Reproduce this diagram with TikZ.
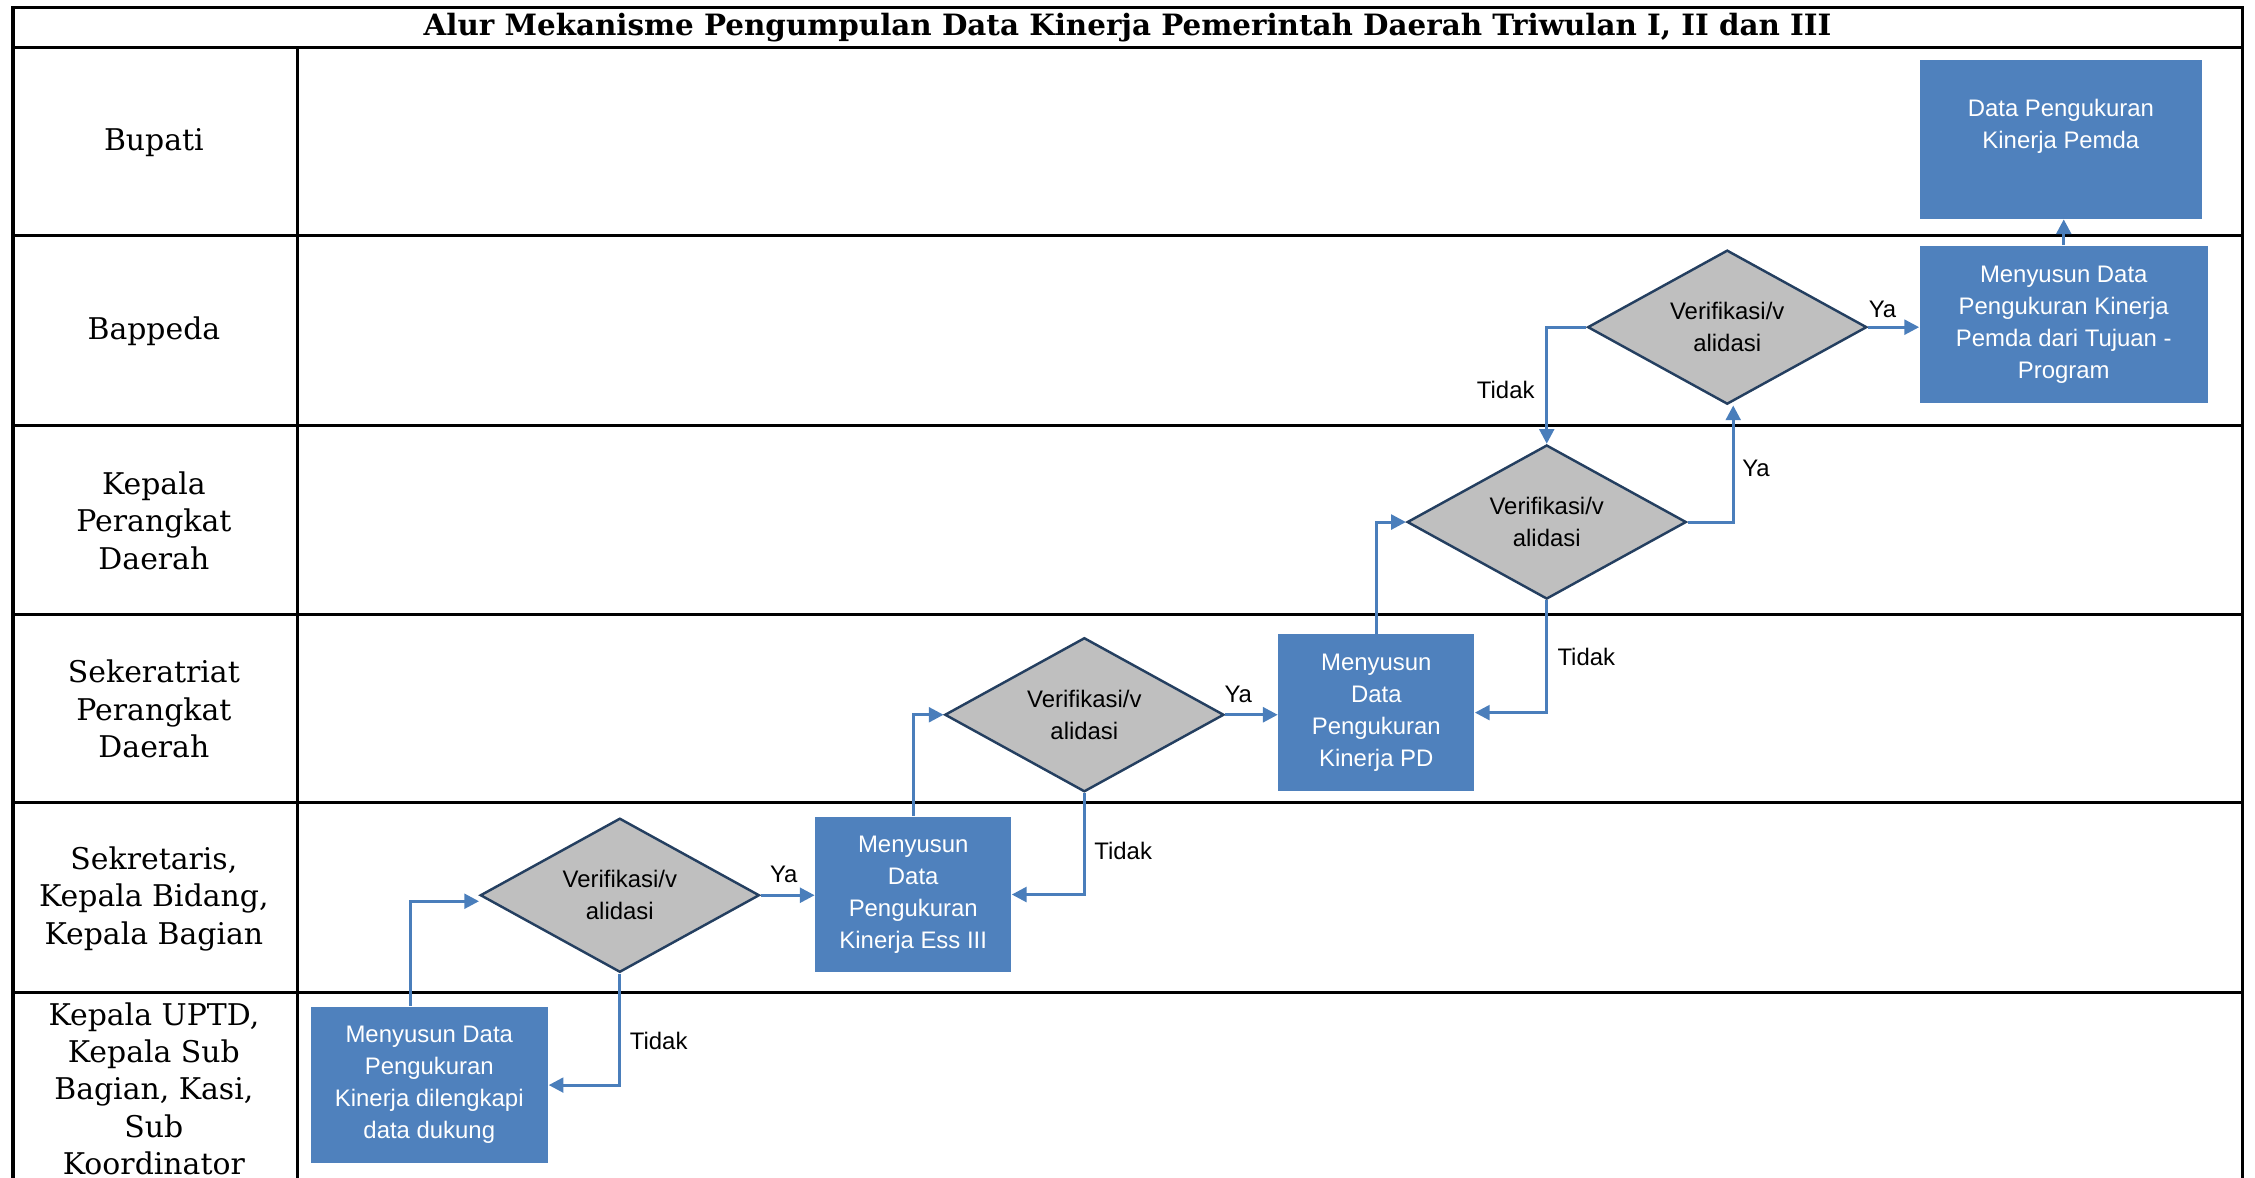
\documentclass[tikz,border=0pt]{standalone}
\usepackage{fontspec}
\setmainfont{DejaVu Serif}
\newfontfamily\boxfont{Liberation Sans}
\usetikzlibrary{shapes.geometric,arrows.meta}

\definecolor{boxblue}{HTML}{4F81BD}
\definecolor{flowblue}{HTML}{4A7EBB}
\definecolor{decgray}{HTML}{BFBFBF}
\definecolor{decline}{HTML}{243F60}

\tikzset{
  lane/.style={line width=0.9pt},
  lanelabel/.style={align=center,font=\fontsize{8.5}{10.6}\selectfont},
  procbox/.style={fill=boxblue,text=white,align=center,inner sep=1pt,
    font=\boxfont\fontsize{6.8}{9.1}\selectfont},
  decision/.style={diamond,aspect=1.8,fill=decgray,draw=decline,line width=0.7pt,inner sep=0pt,
    minimum width=2.79cm,minimum height=1.54cm,align=center,
    font=\boxfont\fontsize{6.8}{9.1}\selectfont},
  flow/.style={draw=flowblue,line width=0.85pt,-{Triangle[length=4.2pt,width=4.2pt]}},
  answer/.style={inner sep=0pt,font=\boxfont\fontsize{6.8}{9.1}\selectfont}
}

\begin{document}
\begin{tikzpicture}[x=0.01438cm,y=-0.01438cm]
\useasboundingbox (0,0) rectangle (1568,819);

\draw[lane] (9,900) -- (9,5) -- (1559,5) -- (1559,900);
\draw[lane] (9,33) -- (1559,33);
\foreach \y in {164,296,427,558,690}
  \draw[lane] (9,\y) -- (1559,\y);
\draw[lane] (207,33) -- (207,900);

\node (title) at (784,19) {\fontsize{8.35}{9}\selectfont\bfseries Alur Mekanisme Pengumpulan Data Kinerja Pemerintah Daerah Triwulan I, II dan III};

\node[lanelabel] (bupati) at (107,99) {Bupati};
\node[lanelabel] (bappeda) at (107,230) {Bappeda};
\node[lanelabel] (kepala) at (107,362) {Kepala\\Perangkat\\Daerah};
\node[lanelabel] (sekretariat) at (107,493) {Sekeratriat\\Perangkat\\Daerah};
\node[lanelabel] (sekretaris) at (107,625) {Sekretaris,\\Kepala Bidang,\\Kepala Bagian};
\node[lanelabel] (uptd) at (107,757) {Kepala UPTD,\\Kepala Sub\\Bagian, Kasi,\\Sub\\Koordinator};

\node[procbox,minimum width=2.818cm,minimum height=1.582cm] (pemda) at (1433,97) {Data Pengukuran\\Kinerja Pemda\\~};
\node[procbox,minimum width=2.876cm,minimum height=1.567cm] (tujuan) at (1435,225.5) {Menyusun Data\\Pengukuran Kinerja\\Pemda dari Tujuan -\\Program};
\node[procbox,minimum width=1.956cm,minimum height=1.567cm] (pd) at (957,495.5) {Menyusun\\Data\\Pengukuran\\Kinerja PD};
\node[procbox,minimum width=1.956cm,minimum height=1.553cm] (ess) at (635,622) {Menyusun\\Data\\Pengukuran\\Kinerja Ess III};
\node[procbox,minimum width=2.373cm,minimum height=1.567cm] (dukung) at (298.5,754.5) {Menyusun Data\\Pengukuran\\Kinerja dilengkapi\\data dukung};

\node[decision] (ver1) at (1201,227.5) {Verifikasi/v\\alidasi};
\node[decision] (ver2) at (1075.5,363) {Verifikasi/v\\alidasi};
\node[decision] (ver3) at (754,497) {Verifikasi/v\\alidasi};
\node[decision] (ver4) at (431,622.5) {Verifikasi/v\\alidasi};

\draw[flow] ([xshift=-0.19cm]dukung.north) |- ([yshift=-0.06cm]ver4.west);
\draw[flow] (ver4.east) -- (ver4.east -| ess.west);
\draw[flow] (ver4.south) |- (dukung.east);
\draw[flow] (ess.north) |- (ver3.west);
\draw[flow] (ver3.east) -- (ver3.east -| pd.west);
\draw[flow] (ver3.south) |- (ess.east);
\draw[flow] (pd.north) |- (ver2.west);
\draw[flow] (ver2.south) |- (pd.east);
\draw[flow] (ver2.east) -| ([xshift=0.06cm]ver1.south);
\draw[flow] (ver1.west) -| (ver2.north);
\draw[flow] (ver1.east) -- (ver1.east -| tujuan.west);
\draw[flow] (tujuan.north) -- (tujuan.north |- pemda.south);

\node[answer] (ya4) at (545,608) {Ya};
\node[answer] (tidak4) at (458,724) {Tidak};
\node[answer] (ya3) at (861,483) {Ya};
\node[answer] (tidak3) at (781,592) {Tidak};
\node[answer] (tidak2) at (1103,457) {Tidak};
\node[answer] (ya2) at (1221,326) {Ya};
\node[answer] (tidak1) at (1047,271) {Tidak};
\node[answer] (ya1) at (1309,215) {Ya};
\end{tikzpicture}
\end{document}
